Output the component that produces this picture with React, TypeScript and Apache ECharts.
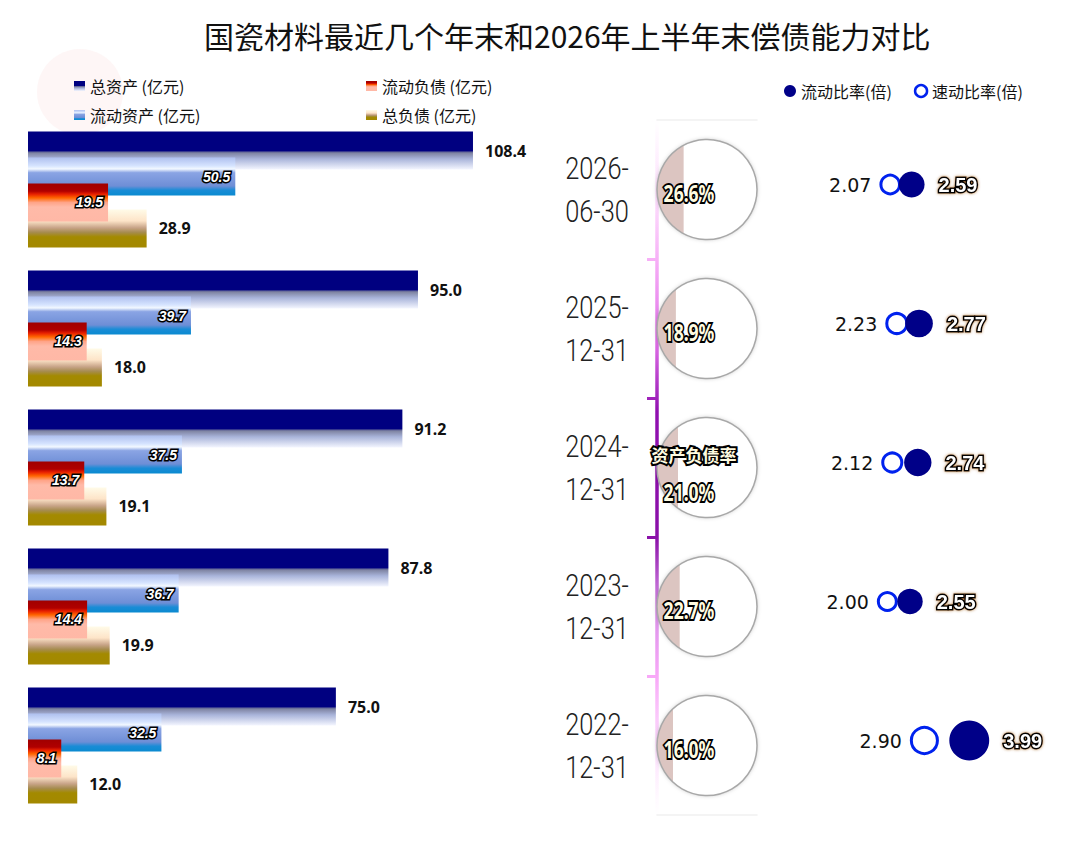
import React, { useEffect, useRef } from 'react';
import * as echarts from 'echarts';

const categories = ['2026-06-30', '2025-12-31', '2024-12-31', '2023-12-31', '2022-12-31'];
const totalAssets = [108.4, 95.0, 91.2, 87.8, 75.0];
const currentAssets = [50.5, 39.7, 37.5, 36.7, 32.5];
const currentLiabilities = [19.5, 14.3, 13.7, 14.4, 8.1];
const totalLiabilities = [28.9, 18.0, 19.1, 19.9, 12.0];
const debtRatio = [26.6, 18.9, 21.0, 22.7, 16.0];
const currentRatio = [2.59, 2.77, 2.74, 2.55, 3.99];
const quickRatio = [2.07, 2.23, 2.12, 2.0, 2.9];

const CJK = '"Noto Sans CJK SC", "Noto Sans", sans-serif';

const vg = (stops: [number, string][]) =>
  new echarts.graphic.LinearGradient(0, 0, 0, 1, stops.map(([offset, color]) => ({ offset, color })));

export default function App() {
  const ref = useRef<HTMLDivElement>(null);
  useEffect(() => {
    document.body.style.margin = '0';
    if (!ref.current) return;
    const chart = echarts.init(ref.current, undefined, { renderer: 'svg' });

    const timelineGrad = new echarts.graphic.LinearGradient(
      0, 120, 0, 815,
      [
        { offset: 0, color: 'rgba(255,220,255,0)' },
        { offset: 0.12, color: 'rgba(252,215,252,0.9)' },
        { offset: 0.2, color: '#f7b0f7' },
        { offset: 0.32, color: '#e070e8' },
        { offset: 0.42, color: '#9010b0' },
        { offset: 0.6, color: '#8a10a8' },
        { offset: 0.7, color: '#d890e8' },
        { offset: 0.8, color: '#f8a8f8' },
        { offset: 0.9, color: 'rgba(252,210,252,0.8)' },
        { offset: 1, color: 'rgba(255,230,255,0)' },
      ],
      true
    );

    const outerLabel = {
      show: true,
      position: 'right',
      distance: 12,
      fontFamily: '"Noto Sans", sans-serif',
      fontWeight: 'bold',
      fontSize: 16,
      color: '#111',
      formatter: (p: any) => Number(p.value).toFixed(1),
    };
    const innerLabel = {
      show: true,
      position: 'insideRight',
      distance: 5,
      fontFamily: '"Liberation Sans", sans-serif',
      fontWeight: 'bold',
      fontStyle: 'italic',
      fontSize: 14,
      color: '#fff',
      textBorderColor: '#000',
      textBorderWidth: 3,
      formatter: (p: any) => Number(p.value).toFixed(1),
    };

    const barCommon = {
      type: 'bar',
      xAxisIndex: 0,
      yAxisIndex: 0,
      barWidth: 38,
      barGap: '-31.6%',
    };

    const faintAxis = (position: string) => ({
      type: 'value',
      gridIndex: 1,
      min: 0,
      max: 100,
      position,
      axisLine: { show: true, lineStyle: { color: '#f1f1f1', width: 1.5 } },
      axisTick: { show: false },
      axisLabel: { show: false },
      splitLine: { show: false },
    });

    const option: any = {
      animation: false,
      backgroundColor: '#fff',
      textStyle: { fontFamily: CJK },
      title: {
        text: '国瓷材料最近几个年末和2026年上半年末偿债能力对比',
        left: 199,
        top: 15,
        textStyle: { fontSize: 30, fontWeight: 'normal', color: '#111', fontFamily: CJK },
      },
      graphic: [
        {
          type: 'circle',
          z: -10,
          shape: { cx: 80, cy: 92, r: 43 },
          style: { fill: 'rgba(250,218,218,0.25)' },
          silent: true,
        },
      ],
      legend: [
        {
          left: 74,
          top: 78,
          padding: 0,
          orient: 'vertical',
          itemWidth: 11,
          itemHeight: 10,
          itemGap: 13,
          icon: 'rect',
          textStyle: { fontSize: 16, color: '#111', fontFamily: CJK },
          data: ['总资产 (亿元)', '流动资产 (亿元)'],
        },
        {
          left: 366,
          top: 78,
          padding: 0,
          orient: 'vertical',
          itemWidth: 11,
          itemHeight: 10,
          itemGap: 13,
          icon: 'rect',
          textStyle: { fontSize: 16, color: '#111', fontFamily: CJK },
          data: ['流动负债 (亿元)', '总负债 (亿元)'],
        },
        {
          left: 784,
          top: 83,
          padding: 0,
          orient: 'horizontal',
          itemWidth: 12,
          itemHeight: 12,
          itemGap: 22,
          textStyle: { fontSize: 16, color: '#111', fontFamily: CJK },
          data: [
            { name: '流动比率(倍)', icon: 'circle', itemStyle: { color: '#000088', borderWidth: 0 } },
            {
              name: '速动比率(倍)',
              icon: 'circle',
              itemStyle: { color: '#fff', borderColor: '#0022ee', borderWidth: 2.5 },
            },
          ],
        },
      ],
      grid: [
        { left: 28, top: 120, width: 492.6, height: 695 },
        { left: 657, top: 120, width: 100, height: 695 },
        { left: 805, top: 115, width: 247, height: 695 },
      ],
      xAxis: [
        { type: 'value', gridIndex: 0, min: 0, max: 120, show: false },
        faintAxis('bottom'),
        { type: 'value', gridIndex: 2, min: 0, max: 6, show: false },
        faintAxis('top'),
      ],
      yAxis: [
        { type: 'category', gridIndex: 0, data: categories, inverse: true, show: false },
        {
          type: 'category',
          gridIndex: 1,
          data: categories,
          inverse: true,
          position: 'left',
          offset: 3,
          axisLine: { show: true, lineStyle: { color: timelineGrad, width: 3.5 } },
          axisTick: { show: true, length: 10, lineStyle: { color: timelineGrad, width: 3 } },
          axisLabel: { show: false },
          splitLine: { show: false },
        },
        { type: 'category', gridIndex: 2, data: categories, inverse: true, show: false },
      ],
      series: [
        {
          ...barCommon,
          name: '总资产 (亿元)',
          z: 2,
          data: totalAssets,
          itemStyle: {
            color: vg([
              [0, '#000080'],
              [0.5, '#000080'],
              [0.56, '#7d82a0'],
              [0.72, '#a9b4da'],
              [1, '#f4f6ff'],
            ]),
          },
          label: outerLabel,
        },
        {
          ...barCommon,
          name: '流动资产 (亿元)',
          z: 3,
          data: currentAssets,
          itemStyle: {
            color: vg([
              [0, '#aebfee'],
              [0.22, '#d6e4ff'],
              [0.3, '#f2f8ff'],
              [0.4, '#8aa4e4'],
              [0.75, '#6e8ed6'],
              [0.86, '#1a8cd6'],
              [1, '#0a8ad0'],
            ]),
          },
          label: innerLabel,
        },
        {
          ...barCommon,
          name: '流动负债 (亿元)',
          z: 5,
          data: currentLiabilities,
          itemStyle: {
            color: vg([
              [0, '#a00000'],
              [0.2, '#b00000'],
              [0.28, '#e82000'],
              [0.38, '#ff6600'],
              [0.5, '#ffa488'],
              [0.62, '#ffbaa8'],
              [1, '#ffb8a6'],
            ]),
          },
          label: innerLabel,
        },
        {
          ...barCommon,
          name: '总负债 (亿元)',
          z: 4,
          data: totalLiabilities,
          itemStyle: {
            color: vg([
              [0, '#fffbe8'],
              [0.3, '#fde4c8'],
              [0.48, '#c8a488'],
              [0.6, '#a68c50'],
              [0.72, '#a38a00'],
              [1, '#a38800'],
            ]),
          },
          label: outerLabel,
        },
        {
          type: 'custom',
          name: '日期',
          xAxisIndex: 1,
          yAxisIndex: 1,
          data: categories.map((c, i) => [0, i]),
          encode: { x: 0, y: 1 },
          silent: true,
          renderItem: (params: any, api: any) => {
            const idx = api.value(1);
            const p = api.coord([0, idx]);
            const name = categories[params.dataIndex];
            return {
              type: 'text',
              x: p[0] - 60,
              y: p[1] + 1,
              scaleX: 0.82,
              style: {
                text: name.slice(0, 5) + '\n' + name.slice(5),
                fill: '#222',
                fontFamily: 'Roboto, "Noto Sans", sans-serif',
                fontWeight: 300,
                fontSize: 31,
                lineHeight: 43,
                align: 'center',
                verticalAlign: 'middle',
              },
            };
          },
        },
        {
          type: 'custom',
          name: '资产负债率',
          xAxisIndex: 1,
          yAxisIndex: 1,
          data: debtRatio.map((v, i) => [v, i]),
          encode: { x: 0, y: 1 },
          z: 3,
          renderItem: (params: any, api: any) => {
            const v = api.value(0);
            const idx = api.value(1);
            const left = api.coord([0, idx]);
            const right = api.coord([100, idx]);
            const fx = api.coord([v, idx])[0];
            const r = (right[0] - left[0]) / 2;
            const cx = left[0] + r;
            const cy = left[1];
            const c = Math.max(-1, Math.min(1, (fx - cx) / r));
            const t0 = Math.acos(c);
            const pts: number[][] = [];
            const N = 60;
            for (let k = 0; k <= N; k++) {
              const t = t0 + ((2 * Math.PI - 2 * t0) * k) / N;
              pts.push([cx + r * Math.cos(t), cy + r * Math.sin(t)]);
            }
            const mid = Math.floor(categories.length / 2);
            const showName = params.dataIndex === mid;
            const textStyleBase = {
              fill: '#fffbe0',
              stroke: '#000',
              lineWidth: 4,
              fontWeight: 'bold',
              align: 'center',
              verticalAlign: 'middle',
            };
            const children: any[] = [
              {
                type: 'circle',
                shape: { cx, cy, r },
                style: { fill: '#fff', shadowBlur: 4, shadowColor: 'rgba(0,0,0,0.25)' },
              },
              { type: 'polygon', shape: { points: pts }, style: { fill: '#dcc5c1' } },
              {
                type: 'circle',
                shape: { cx, cy, r },
                style: { fill: 'none', stroke: '#a8a8a8', lineWidth: 1.5 },
              },
            ];
            if (showName) {
              children.push({
                type: 'text',
                x: cx - 13,
                y: cy - 13,
                style: { ...textStyleBase, text: '资产负债率', fontSize: 17, fontFamily: CJK },
              });
            }
            children.push({
              type: 'text',
              x: cx - 18,
              y: showName ? cy + 24 : cy + 3,
              scaleX: 0.73,
              style: {
                ...textStyleBase,
                text: v.toFixed(1) + '%',
                fontSize: 24,
                fontFamily: '"Noto Sans", sans-serif',
              },
            });
            return { type: 'group', children };
          },
        },
        {
          type: 'scatter',
          name: '速动比率(倍)',
          xAxisIndex: 2,
          yAxisIndex: 2,
          z: 3,
          data: quickRatio.map((v, i) => [v, i]),
          symbol: 'circle',
          symbolSize: (val: number[]) => val[0] * 9,
          itemStyle: { color: '#fff', borderColor: '#0022ee', borderWidth: 3, opacity: 1 },
          label: {
            show: true,
            position: 'left',
            distance: 8,
            fontFamily: '"DejaVu Sans", sans-serif',
            fontSize: 19,
            color: '#111',
            formatter: (p: any) => Number(p.value[0]).toFixed(2),
          },
        },
        {
          type: 'scatter',
          name: '流动比率(倍)',
          xAxisIndex: 2,
          yAxisIndex: 2,
          z: 4,
          data: currentRatio.map((v, i) => [v, i]),
          symbol: 'circle',
          symbolSize: (val: number[]) => val[0] * 10,
          itemStyle: { color: '#000088', opacity: 1 },
          label: {
            show: true,
            position: 'right',
            distance: 14,
            fontFamily: '"Liberation Sans", sans-serif',
            fontWeight: 'bold',
            fontSize: 20,
            color: '#fff',
            textBorderColor: '#000',
            textBorderWidth: 3,
            textShadowColor: 'rgba(150,80,0,0.7)',
            textShadowBlur: 3,
            formatter: (p: any) => Number(p.value[0]).toFixed(2),
          },
        },
      ],
    };

    chart.setOption(option);
    return () => chart.dispose();
  }, []);

  return <div ref={ref} style={{ width: 1080, height: 843 }} />;
}
